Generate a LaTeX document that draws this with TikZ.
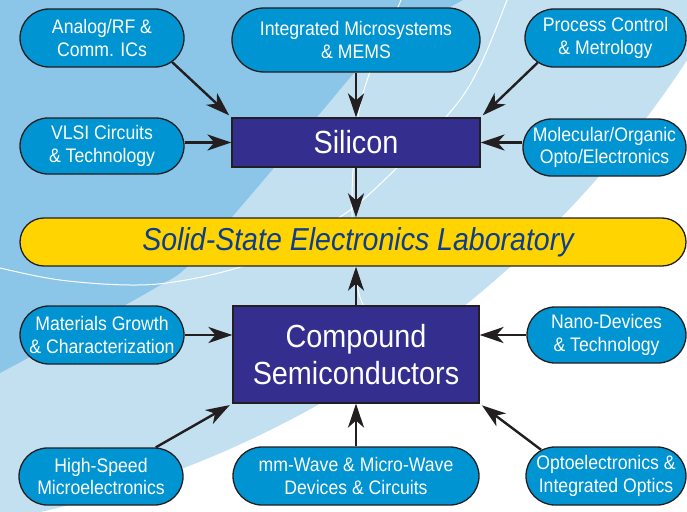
\documentclass[tikz,border=0pt]{standalone}
\usepackage{fontspec}
\setmainfont{Liberation Sans}[FakeStretch=0.9]
\usetikzlibrary{arrows.meta,shapes.misc}
\definecolor{medblue}{HTML}{8BC5E8}
\definecolor{ltblue}{HTML}{C3E0F1}
\definecolor{pillblue}{HTML}{0094D2}
\definecolor{boxblue}{HTML}{342E8F}
\definecolor{labyellow}{HTML}{FFD400}
\definecolor{labtext}{HTML}{0E3D8C}
\definecolor{edgec}{HTML}{231F20}
\pgfdeclarelayer{bg}
\pgfsetlayers{bg,main}
\begin{document}
\begin{tikzpicture}[x=1pt,y=-1pt,
  pill/.style={rounded rectangle, draw=edgec, line width=1.3pt, fill=pillblue, text=white,
    inner sep=0pt, align=center, font=\fontsize{19.6}{22.5}\selectfont},
  core/.style={rectangle, draw=edgec, line width=1.2pt, fill=boxblue, text=white,
    inner sep=0pt, align=center, font=\fontsize{32}{37}\selectfont},
  labbar/.style={rounded rectangle, draw=edgec, line width=1.3pt, fill=labyellow, text=labtext,
    inner sep=0pt, font=\fontsize{31.7}{36}\selectfont\itshape},
  link/.style={line width=2.4pt, draw=edgec, -{Stealth[length=24pt,width=16pt,inset=7pt]}},
  swoosh/.style={draw=white, line width=1pt}]
\useasboundingbox (0,0) rectangle (687,511);

% background
\begin{pgfonlayer}{bg}
\fill[white] (0,0) rectangle (687,511);
\begin{scope}
\clip (0,0) rectangle (687,511);
\fill[ltblue] (-197.3,-516.9) circle (1055.8pt);
\fill[medblue] (0,-10) -- plot[smooth, tension=0.6] coordinates {(475,-10) (463,0) (383,43) (355,72) (317,117) (232,217) (187,267) (157,287) (80,330) (0,373) (-10,378)} -- cycle;
\draw[swoosh] plot[smooth, tension=0.6] coordinates {(404,-10) (401,0) (370,72) (358,117) (353,170) (352,213) (354,255) (358,290) (366,312) (376,340)};
\draw[swoosh] plot[smooth, tension=0.6] coordinates {(512,-15) (507,0) (478,70) (446,117) (377,187) (340,217) (290,245) (240,267) (180,281) (130,285) (60,280) (0,268) (-20,262)};
\end{scope}
\end{pgfonlayer}

% nodes
\node[pill, minimum width=164pt, minimum height=58pt] (an) at (102,38) {Analog/RF \&\\Comm. ICs};
\node[pill, minimum width=248pt, minimum height=64pt] (im) at (356,40) {Integrated Microsystems\\\& MEMS};
\node[pill, minimum width=161pt, minimum height=58pt] (pc) at (605.5,38) {Process Control\\\& Metrology};
\node[pill, minimum width=164pt, minimum height=56pt] (vl) at (102,146) {VLSI Circuits\\\& Technology};
\node[core, minimum width=248pt, minimum height=49pt] (si) at (356,142.5) {Silicon};
\node[pill, minimum width=163pt, minimum height=57pt] (mo) at (604.5,147.5) {Molecular/Organic\\Opto/Electronics};
\node[labbar, minimum width=666pt, minimum height=48pt] (lab) at (353,242) {\hspace*{10pt}Solid-State Electronics Laboratory};
\node[pill, minimum width=164pt, minimum height=58pt] (mg) at (102,335) {Materials Growth\\\& Characterization};
\node[core, minimum width=246pt, minimum height=97pt] (cs) at (356,354.5) {Compound\\Semiconductors};
\node[pill, minimum width=159pt, minimum height=56pt] (nd) at (606.5,335) {Nano-Devices\\\& Technology};
\node[pill, minimum width=164pt, minimum height=57pt] (hs) at (101,476.5) {High-Speed\\Microelectronics};
\node[pill, minimum width=246pt, minimum height=58pt] (mw) at (356,476) {mm-Wave \& Micro-Wave\\Devices \& Circuits};
\node[pill, minimum width=160pt, minimum height=58pt] (op) at (606,476) {Optoelectronics \&\\Integrated Optics};

% connectors
\draw[link, shorten >=3pt] (an.-19) -- (si.north west);
\draw[link] (im.south) -- (si.north);
\draw[link, shorten >=3pt] (pc.-160) -- (si.north east);
\draw[link] (si.west -| vl.east) -- (si.west);
\draw[link] (si.east -| mo.west) -- (si.east);
\draw[link] (si.south) -- (si.south |- lab.north);
\draw[link] (cs.north) -- (cs.north |- lab.south);
\draw[link] (mg.east) -- (mg.east -| cs.west);
\draw[link] (nd.west) -- (nd.west -| cs.east);
\draw[link, shorten >=3pt] (hs.28) -- (cs.south west);
\draw[link] (mw.north) -- (cs.south);
\draw[link, shorten >=3pt] (op.158) -- (cs.south east);
\end{tikzpicture}
\end{document}
